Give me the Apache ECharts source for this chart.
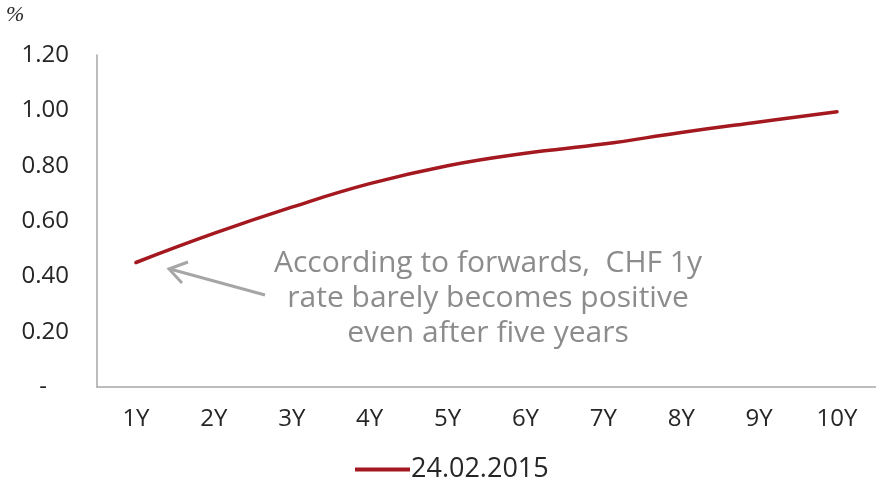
<!DOCTYPE html>
<html>
<head>
<meta charset="utf-8">
<script src="https://cdn.jsdelivr.net/npm/echarts@6/dist/echarts.min.js"></script>
<style>
	html, body { margin: 0; padding: 0; background: #fff; }
	#chart-container { width: 876px; height: 488px; }
</style>
</head>
<body>
<div id="chart-container"></div>
<script>
	var categories = ['1Y', '2Y', '3Y', '4Y', '5Y', '6Y', '7Y', '8Y', '9Y', '10Y'];
	var forward_rates = [0.45, 0.555, 0.65, 0.735, 0.80, 0.845, 0.878, 0.92, 0.958, 0.995];
	var series_name = '24.02.2015';

	var font_family = '"Open Sans", "Noto Sans", sans-serif';
	var label_color = '#262626';
	var axis_color = '#a6a6a6';
	var line_color = '#a3191f';
	var note_color = '#8c8c8c';

	var chart = echarts.init(document.getElementById('chart-container'));
	var options = {
		animation: false,
		grid: {
			left: 97,
			right: 0,
			top: 55,
			bottom: 101
		},
		legend: {
			bottom: 0,
			left: 350,
			itemWidth: 55,
			itemHeight: 4,
			icon: 'rect',
			data: [series_name],
			textStyle: {
				fontFamily: font_family,
				fontSize: 27,
				color: label_color,
				padding: [0, 0, 0, -4]
			}
		},
		xAxis: {
			type: 'category',
			data: categories,
			axisLine: { lineStyle: { color: axis_color, width: 1.5 } },
			axisTick: { show: false },
			axisLabel: {
				margin: 20,
				fontFamily: font_family,
				fontSize: 24,
				color: label_color
			}
		},
		yAxis: {
			type: 'value',
			min: 0,
			max: 1.2,
			interval: 0.2,
			splitLine: { show: false },
			axisTick: { show: false },
			axisLine: { show: true, lineStyle: { color: axis_color, width: 1.5 } },
			axisLabel: {
				margin: 28,
				fontFamily: font_family,
				fontSize: 24,
				color: label_color,
				formatter: function (value) {
					if (value === 0) return '{d|-}';
					return value.toFixed(2);
				},
				rich: {
					d: { fontFamily: font_family, fontSize: 24, color: label_color, padding: [0, 22, 0, 0] }
				}
			}
		},
		series: [{
			name: series_name,
			type: 'line',
			data: forward_rates,
			smooth: 0.45,
			showSymbol: false,
			symbol: 'none',
			itemStyle: { color: line_color },
			lineStyle: { color: line_color, width: 3.5, cap: 'round' }
		}],
		graphic: [
			{
				type: 'text',
				left: 6,
				top: 4,
				style: {
					text: '%',
					fontFamily: '"Liberation Serif", serif',
					fontStyle: 'italic',
					fontSize: 22,
					fill: label_color
				}
			},
			{
				type: 'text',
				x: 488,
				y: 246,
				style: {
					text: 'According to forwards,  CHF 1y\nrate barely becomes positive\neven after five years',
					align: 'center',
					fontFamily: font_family,
					fontSize: 30,
					lineHeight: 35,
					fill: note_color
				}
			},
			{
				type: 'line',
				shape: { x1: 265, y1: 295, x2: 170, y2: 269 },
				style: { stroke: '#a6a6a6', lineWidth: 3 }
			},
			{
				type: 'polyline',
				shape: { points: [[188, 262], [169, 269], [182, 283]] },
				style: { stroke: '#a6a6a6', lineWidth: 3, fill: null }
			}
		]
	};

	chart.setOption(options, true);
</script>
</body>
</html>
